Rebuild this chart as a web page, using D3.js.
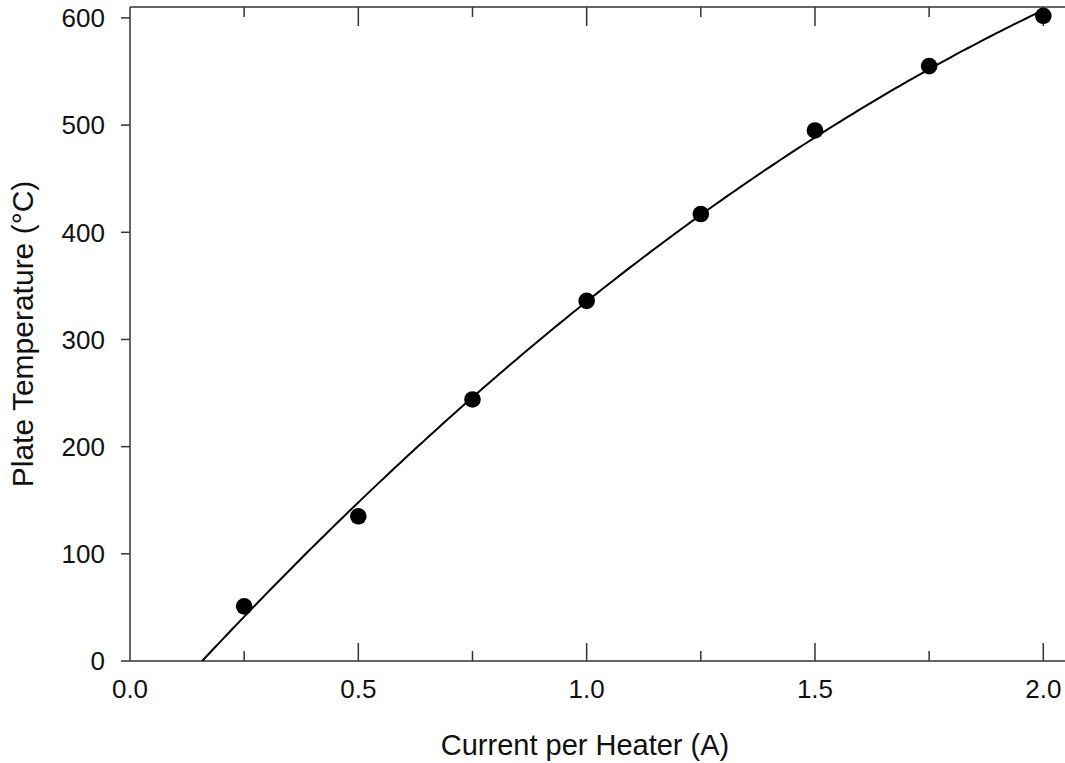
<!DOCTYPE html>
<html>
<head>
<meta charset="utf-8">
<script src="https://cdn.jsdelivr.net/npm/d3@7"></script>
<style>
  html, body { margin: 0; padding: 0; background: #fff; }
  svg { display: block; font-family: "Liberation Sans", Arial, sans-serif; }
</style>
</head>
<body>
<svg id="chart" width="1065" height="763"></svg>
<script>
// ---- data ----
const currents = [0.25, 0.5, 0.75, 1.0, 1.25, 1.5, 1.75, 2.0];
const temperatures = [51, 135, 244, 336, 417, 495, 555, 602];
const xTickValues = [0.0, 0.5, 1.0, 1.5, 2.0];
const xMinorTickValues = [0.25, 0.75, 1.25, 1.75];
const yTickValues = [0, 100, 200, 300, 400, 500, 600];
const xTitle = "Current per Heater (A)";
const yTitle = "Plate Temperature (\u00B0C)";

// ---- layout ----
const plotLeft = 130, plotTop = 7, plotBottom = 661;
const svg = d3.select("#chart");

const x = d3.scaleLinear().domain([0, 2.06]).range([plotLeft, plotLeft + 2.06 * 456.65]);
const y = d3.scaleLinear().domain([0, 610.2]).range([plotBottom, plotTop]);

const axisColor = "#333";
const textColor = "#111";

// quadratic least-squares fit of the data (the fitted curve)
function quadFit(xs, ys) {
  const n = xs.length;
  const s = [0,0,0,0,0], t = [0,0,0];
  for (let i = 0; i < n; i++) {
    const xi = xs[i], yi = ys[i];
    for (let k = 0; k < 5; k++) s[k] += Math.pow(xi, k);
    for (let k = 0; k < 3; k++) t[k] += yi * Math.pow(xi, k);
  }
  const A = [[s[0], s[1], s[2]], [s[1], s[2], s[3]], [s[2], s[3], s[4]]];
  const b = t.slice();
  for (let i = 0; i < 3; i++) {
    let p = i;
    for (let r = i + 1; r < 3; r++) if (Math.abs(A[r][i]) > Math.abs(A[p][i])) p = r;
    [A[i], A[p]] = [A[p], A[i]]; [b[i], b[p]] = [b[p], b[i]];
    for (let r = i + 1; r < 3; r++) {
      const fct = A[r][i] / A[i][i];
      for (let c = i; c < 3; c++) A[r][c] -= fct * A[i][c];
      b[r] -= fct * b[i];
    }
  }
  const c = [0,0,0];
  for (let i = 2; i >= 0; i--) {
    let sum = b[i];
    for (let j = i + 1; j < 3; j++) sum -= A[i][j] * c[j];
    c[i] = sum / A[i][i];
  }
  return c;
}
const coef = quadFit(currents, temperatures);
const fitFn = v => coef[0] + coef[1] * v + coef[2] * v * v;
const disc = coef[1] * coef[1] - 4 * coef[2] * coef[0];
const root1 = (-coef[1] + Math.sqrt(disc)) / (2 * coef[2]);
const root2 = (-coef[1] - Math.sqrt(disc)) / (2 * coef[2]);
const xStart = [root1, root2].filter(r => r > 0 && r < 1).sort((a, b) => a - b)[0] || 0;
const curveX = d3.range(0, 201).map(i => xStart + (2.0 - xStart) * i / 200);

// ---- frame ----
const xRight = x.range()[1];
svg.append("line").attr("x1", plotLeft).attr("x2", xRight).attr("y1", plotTop).attr("y2", plotTop)
  .attr("stroke", axisColor).attr("stroke-width", 1.5);

// bottom axis (inward ticks)
const gx = svg.append("g").attr("transform", `translate(0,${plotBottom})`);
gx.append("line").attr("x1", plotLeft).attr("x2", xRight).attr("stroke", axisColor).attr("stroke-width", 1.5);
gx.selectAll("line.maj").data(xTickValues.filter(v => v > 0)).join("line").attr("class", "maj")
  .attr("x1", d => x(d)).attr("x2", d => x(d)).attr("y1", 0).attr("y2", -18)
  .attr("stroke", axisColor).attr("stroke-width", 1.5);
gx.selectAll("line.min").data(xMinorTickValues).join("line").attr("class", "min")
  .attr("x1", d => x(d)).attr("x2", d => x(d)).attr("y1", 0).attr("y2", -10)
  .attr("stroke", axisColor).attr("stroke-width", 1.5);
gx.selectAll("text").data(xTickValues).join("text")
  .attr("x", d => x(d)).attr("y", 37).attr("text-anchor", "middle")
  .attr("font-size", 26).attr("fill", textColor)
  .text(d => d3.format(".1f")(d));

// top axis ticks (inward)
const gt = svg.append("g").attr("transform", `translate(0,${plotTop})`);
gt.selectAll("line.maj").data(xTickValues.filter(v => v > 0)).join("line").attr("class", "maj")
  .attr("x1", d => x(d)).attr("x2", d => x(d)).attr("y1", 0).attr("y2", 19)
  .attr("stroke", axisColor).attr("stroke-width", 1.5);
gt.selectAll("line.min").data(xMinorTickValues).join("line").attr("class", "min")
  .attr("x1", d => x(d)).attr("x2", d => x(d)).attr("y1", 0).attr("y2", 10)
  .attr("stroke", axisColor).attr("stroke-width", 1.5);

// left axis (outward ticks)
const gy = svg.append("g").attr("transform", `translate(${plotLeft},0)`);
gy.append("line").attr("y1", plotTop).attr("y2", plotBottom).attr("stroke", axisColor).attr("stroke-width", 1.5);
gy.selectAll("line.t").data(yTickValues).join("line").attr("class", "t")
  .attr("x1", -9).attr("x2", 0).attr("y1", d => y(d)).attr("y2", d => y(d))
  .attr("stroke", axisColor).attr("stroke-width", 1.5);
gy.selectAll("text").data(yTickValues).join("text")
  .attr("x", -25).attr("y", d => y(d)).attr("dy", "0.36em").attr("text-anchor", "end")
  .attr("font-size", 26).attr("fill", textColor)
  .text(d => d);

// fit curve
svg.append("path").datum(curveX)
  .attr("d", d3.line().x(d => x(d)).y(d => y(Math.max(0, fitFn(d)))))
  .attr("fill", "none").attr("stroke", "#000").attr("stroke-width", 2);

// points
svg.selectAll("circle.pt").data(currents).join("circle").attr("class", "pt")
  .attr("cx", d => x(d)).attr("cy", (d, i) => y(temperatures[i])).attr("r", 8.3)
  .attr("fill", "#000");

// titles
svg.append("text").attr("x", 585).attr("y", 755).attr("text-anchor", "middle")
  .attr("font-size", 29).attr("fill", textColor).text(xTitle);
svg.append("text").attr("transform", "translate(33,334) rotate(-90)").attr("text-anchor", "middle")
  .attr("font-size", 30).attr("fill", textColor).text(yTitle);
</script>
</body>
</html>
